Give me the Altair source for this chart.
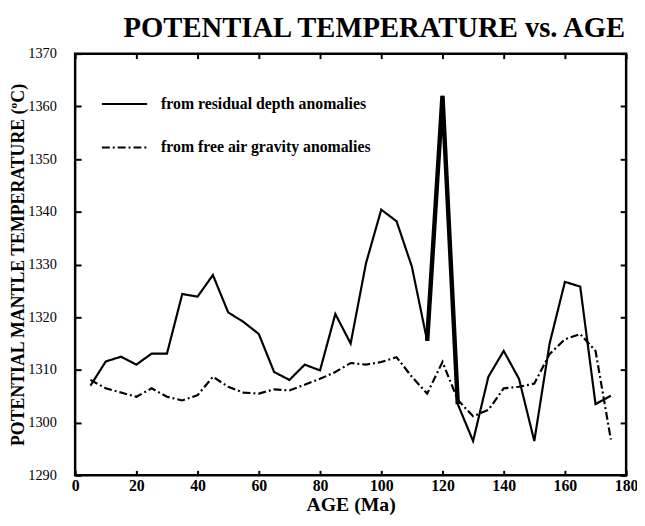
import altair as alt
import pandas as pd

# ---- data ----
ages = [5, 10, 15, 20, 25, 30, 35, 40, 45, 50, 55, 60, 65, 70, 75, 80, 85, 90,
        95, 100, 105, 110, 115, 120, 125, 130, 135, 140, 145, 150, 155, 160,
        165, 170, 175]
residual = [1307.0, 1311.6, 1312.5, 1311.0, 1313.1, 1313.1, 1324.4, 1323.9,
            1328.0, 1320.9, 1319.1, 1316.8, 1309.6, 1308.1, 1311.0, 1309.9,
            1320.6, 1315.0, 1330.2, 1340.4, 1338.2, 1329.6, 1315.5, 1362.0,
            1303.5, 1296.5, 1308.7, 1313.6, 1308.3, 1296.5, 1315.0, 1326.7,
            1325.8, 1303.5, 1305.1]
gravity = [1308.1, 1306.5, 1305.7, 1304.9, 1306.5, 1304.9, 1304.2, 1305.2,
           1308.7, 1306.8, 1305.7, 1305.5, 1306.3, 1306.1, 1307.2, 1308.3,
           1309.6, 1311.3, 1311.0, 1311.5, 1312.4, 1308.7, 1305.5, 1311.5,
           1304.3, 1301.2, 1302.4, 1306.5, 1306.8, 1307.4, 1313.0, 1315.8,
           1316.8, 1313.6, 1296.8]
series_names = ["from residual depth anomalies", "from free air gravity anomalies"]
x_ticks = [0, 20, 40, 60, 80, 100, 120, 140, 160, 180]
y_ticks = [1290, 1300, 1310, 1320, 1330, 1340, 1350, 1360, 1370]
spike_ages = [115, 120, 125]

rows = []
for a, r, g in zip(ages, residual, gravity):
    rows.append({"age": a, "temp": r, "series": series_names[0]})
    rows.append({"age": a, "temp": g, "series": series_names[1]})
df = pd.DataFrame(rows)
spike = df[(df["series"] == series_names[0]) & (df["age"].isin(spike_ages))]

SERIF = "Liberation Serif"
xscale = alt.Scale(domain=[0, 180], nice=False, zero=False)
yscale = alt.Scale(domain=[1290, 1370], nice=False, zero=False)

x_main = alt.X("age:Q", scale=xscale, axis=alt.Axis(
    values=x_ticks, format="d", title="AGE (Ma)", orient="bottom",
    domain=False, grid=False, offset=-5, tickSize=5, tickWidth=2, tickColor="black",
    labelPadding=2, labelFont=SERIF, labelFontSize=16, labelFontWeight="bold",
    labelColor="black", labelFlush=False,
    titleFont=SERIF, titleFontSize=20, titleFontWeight="bold", titleColor="black",
    titlePadding=2))
y_main = alt.Y("temp:Q", scale=yscale, axis=alt.Axis(
    values=y_ticks, format="d", title="POTENTIAL MANTLE TEMPERATURE (ºC)",
    orient="left", domain=False, grid=False, offset=-6, tickSize=6, tickWidth=2,
    tickColor="black", labelPadding=19, labelFont=SERIF, labelFontSize=14.5,
    labelColor="black", labelFlush=False,
    titleFont=SERIF, titleFontSize=18, titleFontWeight="bold", titleColor="black",
    titlePadding=0))

lines = alt.Chart(df).mark_line(color="black", strokeWidth=2.2).encode(
    x=x_main,
    y=y_main,
    strokeDash=alt.StrokeDash(
        "series:N",
        sort=series_names,
        scale=alt.Scale(domain=series_names, range=[[1, 0], [8, 3, 2, 3]]),
        legend=alt.Legend(
            title=None, orient="none", legendX=26, legendY=27,
            symbolType="stroke", symbolSize=2100, symbolStrokeWidth=2,
            symbolStrokeColor="black", labelFont=SERIF, labelFontSize=16,
            labelFontWeight="bold", labelColor="black", labelOffset=13,
            rowPadding=12, labelLimit=0,
        ),
    ),
)

thick = alt.Chart(spike).mark_line(color="black", strokeWidth=4.5).encode(
    x=alt.X("age:Q", scale=xscale, axis=None),
    y=alt.Y("temp:Q", scale=yscale, axis=None),
)

frame_axes = alt.Chart(df).mark_point(opacity=0).encode(
    x=alt.X("age:Q", scale=xscale, axis=alt.Axis(
        values=x_ticks, orient="top", labels=False, title=None, domain=False,
        grid=False, offset=-5, tickSize=5, tickWidth=2, tickColor="black")),
    y=alt.Y("temp:Q", scale=yscale, axis=alt.Axis(
        values=y_ticks, orient="right", labels=False, title=None, domain=False,
        grid=False, offset=-6, tickSize=6, tickWidth=2, tickColor="black")),
)

chart = alt.layer(lines, thick, frame_axes).resolve_axis(
    x="independent", y="independent"
).properties(
    width=558,
    height=427,
    autosize="none",
    padding={"left": 68, "top": 43, "right": 11, "bottom": 40},
    title=alt.TitleParams(
        "POTENTIAL TEMPERATURE vs. AGE", font=SERIF, fontSize=29,
        fontWeight="bold", color="black", anchor="middle", offset=3, dx=24),
).configure_view(stroke="black", strokeWidth=2.5)

chart.save("out.html", embed_options={"renderer": "svg", "actions": False})
